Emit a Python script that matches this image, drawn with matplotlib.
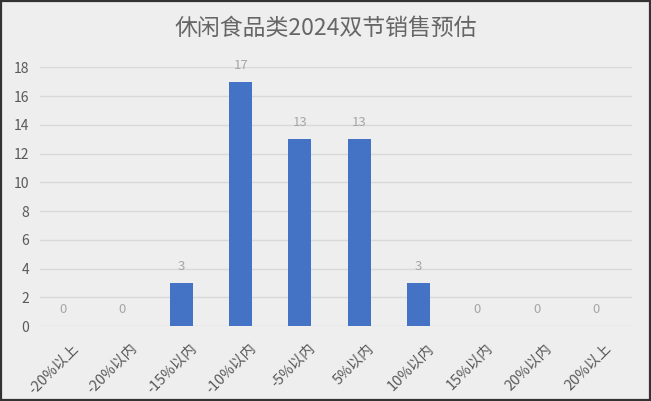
import matplotlib
matplotlib.use("Agg")
import matplotlib.pyplot as plt
from matplotlib.patches import Rectangle

plt.rcParams['font.family'] = ['Noto Sans CJK SC', 'DejaVu Sans']

title = "休闲食品类2024双节销售预估"
categories = ["-20%以上", "-20%以内", "-15%以内", "-10%以内", "-5%以内",
              "5%以内", "10%以内", "15%以内", "20%以内", "20%以上"]
values = [0, 0, 3, 17, 13, 13, 3, 0, 0, 0]
yticks = [0, 2, 4, 6, 8, 10, 12, 14, 16, 18]

bg = '#eeeeee'
fig = plt.figure(figsize=(6.51, 4.01), dpi=100, facecolor=bg)
W, H = 651, 401
left, right, bottom, top = 40, 632, 326, 67.3
ax = fig.add_axes([left / W, 1 - bottom / H, (right - left) / W, (bottom - top) / H])
ax.set_facecolor(bg)

x = list(range(len(categories)))
ax.bar(x, values, width=0.39, color='#4472C4', zorder=3)
for xi, v in zip(x, values):
    ax.annotate(str(v), (xi, v), xytext=(0, 7), textcoords='offset points',
                ha='center', va='bottom', fontsize=9.5, color='#A6A6A6')

ax.set_xlim(-0.39, 9.61)
ax.set_ylim(0, 18)
ax.set_yticks(yticks)
ax.set_yticklabels([str(t) for t in yticks], fontsize=10, color='#595959')
label_shift = 0.14
ax.set_xticks([xi + label_shift for xi in x])
ax.set_xticklabels(categories, rotation=45, ha='right', rotation_mode='anchor',
                   fontsize=10.5, color='#595959')
ax.tick_params(axis='both', length=0)
ax.tick_params(axis='y', pad=8)
ax.tick_params(axis='x', pad=11)
ax.grid(axis='y', color='#D9D9D9', linewidth=1, zorder=0)
for s in ax.spines.values():
    s.set_visible(False)

fig.text(0.5, 1 - 28 / H, title, ha='center', va='center', fontsize=16.5, color='#666666')

fig.patches.append(Rectangle((0.0015, 0.0025), 0.997, 0.995, transform=fig.transFigure,
                             fill=False, edgecolor='#333333', linewidth=1.6))

fig.savefig('out.png', dpi=100, facecolor=bg)
